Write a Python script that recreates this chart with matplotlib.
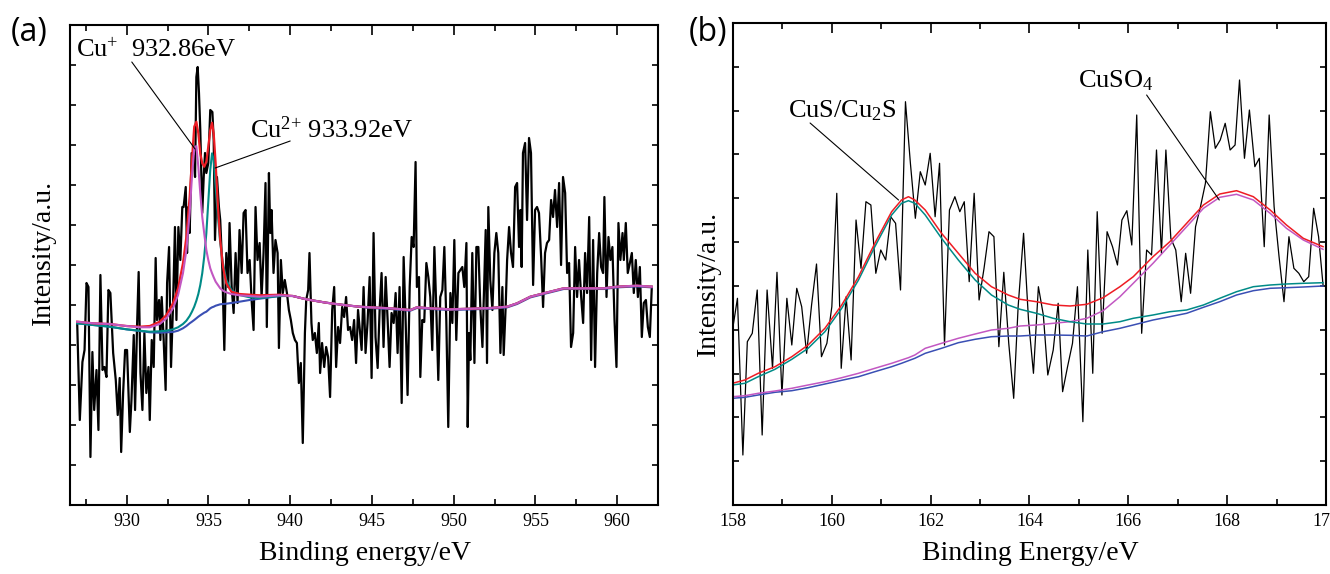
import matplotlib
matplotlib.use("Agg")
import matplotlib.pyplot as plt
from matplotlib.ticker import MultipleLocator

plt.rcParams['font.family'] = ['Liberation Serif', 'DejaVu Serif']
plt.rcParams['mathtext.fontset'] = 'custom'
plt.rcParams['mathtext.rm'] = 'Liberation Serif'
plt.rcParams['mathtext.it'] = 'Liberation Serif:italic'

# ---- (a) Cu 2p: raw spectrum ----
cu_energy = [
    926.97, 927.13, 927.29, 927.42, 927.54, 927.66, 927.78, 927.90, 928.01, 928.15,
    928.27, 928.39, 928.52, 928.64, 928.76, 928.88, 929.00, 929.17, 929.33, 929.45,
    929.57, 929.66, 929.78, 929.90, 930.02, 930.19, 930.29, 930.43, 930.51, 930.63,
    930.73, 930.84, 930.96, 931.08, 931.20, 931.33, 931.41, 931.53, 931.65, 931.77,
    931.85, 931.98, 932.06, 932.14, 932.26, 932.38, 932.47, 932.59, 932.71, 932.83,
    932.95, 933.04, 933.16, 933.28, 933.40, 933.48, 933.61, 933.69, 933.77, 933.85,
    933.97, 934.10, 934.18, 934.26, 934.34, 934.42, 934.50, 934.62, 934.71, 934.79,
    934.87, 934.99, 935.11, 935.24, 935.32, 935.40, 935.52, 935.64, 935.72, 935.85,
    935.97, 936.09, 936.21, 936.29, 936.42, 936.54, 936.66, 936.78, 936.90, 937.03,
    937.15, 937.27, 937.39, 937.52, 937.64, 937.76, 937.88, 938.00, 938.13, 938.25,
    938.37, 938.49, 938.57, 938.70, 938.78, 938.86, 938.98, 939.10, 939.23, 939.31,
    939.43, 939.55, 939.67, 939.80, 939.92, 940.04, 940.16, 940.29, 940.41, 940.53,
    940.65, 940.77, 940.90, 940.98, 941.10, 941.18, 941.30, 941.38, 941.51, 941.63,
    941.75, 941.83, 941.95, 942.08, 942.20, 942.32, 942.44, 942.57, 942.69, 942.81,
    942.93, 943.05, 943.18, 943.30, 943.42, 943.54, 943.66, 943.79, 943.91, 944.03,
    944.15,
    944.37, 944.49, 944.61, 944.73, 944.86, 944.98, 945.10, 945.22, 945.35, 945.47,
    945.59, 945.71, 945.84, 945.96, 946.08, 946.20, 946.33, 946.45, 946.57, 946.69,
    946.82, 946.94, 947.06, 947.18, 947.31, 947.43, 947.55, 947.67, 947.75, 947.88,
    947.96, 948.08, 948.20, 948.33, 948.45, 948.57, 948.69, 948.82, 948.94, 949.06,
    949.18, 949.31, 949.43, 949.55, 949.67, 949.80, 949.92, 950.04, 950.16, 950.29,
    950.41, 950.53, 950.65, 950.78, 950.86, 950.94, 951.02, 951.14, 951.27, 951.39,
    951.51, 951.63, 951.76, 951.88, 951.96, 952.04, 952.12, 952.24, 952.37, 952.49,
    952.61, 952.73, 952.86, 952.98, 953.06, 953.18, 953.27, 953.39, 953.51, 953.63,
    953.76, 953.88, 954.00, 954.08, 954.16, 954.24, 954.37, 954.49, 954.61, 954.73,
    954.86, 954.98, 955.10, 955.22, 955.35, 955.47, 955.59, 955.71, 955.84, 955.96,
    956.08, 956.20, 956.33, 956.45, 956.57, 956.69, 956.82, 956.94, 957.06, 957.18,
    957.31, 957.43, 957.55, 957.67, 957.80, 957.92, 958.04, 958.16, 958.29, 958.41,
    958.53, 958.65, 958.78, 958.90, 959.02, 959.14, 959.22, 959.35, 959.47, 959.59,
    959.71, 959.84, 959.96, 960.08, 960.20, 960.33, 960.41, 960.53, 960.65, 960.78,
    960.90, 961.02, 961.14, 961.27, 961.39, 961.51, 961.63, 961.76, 961.88, 962.00,
    962.12,
]
cu_counts = [
    182, 85, 143, 155, 222, 218, 48, 153, 95, 135,
    75, 230, 135, 138, 128, 215, 212, 152, 125, 90,
    127, 53, 112, 155, 155, 73, 105, 170, 95, 178,
    233, 132, 95, 172, 112, 138, 85, 165, 138, 247,
    185, 205, 165, 208, 165, 115, 222, 258, 138, 198,
    278, 185, 278, 245, 298, 298, 318, 252, 298, 272,
    352, 348, 328, 428, 438, 412, 375, 292, 328, 352,
    332, 342, 395, 393, 365, 265, 328, 298, 285, 235,
    155, 252, 218, 282, 218, 192, 252, 202, 275, 232,
    292, 295, 232, 245, 205, 175, 298, 245, 262, 208,
    252, 322, 178, 332, 272, 295, 232, 265, 252, 157,
    245, 212, 225, 212, 195, 185, 172, 165, 162, 122,
    142, 62, 172, 205, 215, 252, 182, 165, 172, 152,
    182, 132, 162, 138, 158, 148, 108, 195, 218, 138,
    178, 162, 198, 188, 208, 175, 178, 165, 185, 142,
    195,
    155, 218, 152, 182, 228, 127, 272, 168, 137, 195,
    232, 158, 228, 185, 138, 192, 182, 212, 152, 218,
    102, 248, 185, 110, 218, 268, 258, 343, 218, 228,
    128, 185, 183, 242, 228, 208, 155, 258, 195, 125,
    208, 215, 258, 185, 78, 212, 182, 265, 165, 232,
    235, 238, 218, 262, 78, 172, 145, 252, 142, 258,
    258, 198, 158, 228, 275, 142, 298, 225, 195, 252,
    272, 252, 152, 218, 150, 198, 245, 278, 252, 238,
    318, 322, 258, 295, 238, 352, 362, 285, 367, 352,
    220, 295, 298, 292, 248, 198, 252, 262, 265, 305,
    288, 315, 278, 322, 240, 328, 312, 232, 242, 158,
    172, 258, 208, 245, 208, 182, 252, 212, 288, 145,
    265, 138, 232, 272, 238, 232, 308, 208, 268, 245,
    258, 185, 138, 282, 245, 272, 245, 282, 232, 242,
    252, 212, 245, 208, 238, 168, 202, 205, 178, 168,
    218,
]

# ---- (a) fitted curves ----
cu_fit_energy = [
    926.97, 927.95, 928.96, 929.98, 930.80, 931.41, 932.02, 932.43, 932.83, 933.14,
    933.44, 933.65, 933.85, 933.99, 934.13, 934.26, 934.38, 934.50, 934.62, 934.74,
    934.87, 934.99, 935.11, 935.22, 935.32, 935.44, 935.58, 935.72, 935.89, 936.09,
    936.40, 936.90, 937.52, 938.13, 939.35, 940.16, 940.98, 942.20, 943.42, 944.23,
    944.90, 946.12, 947.35, 947.75, 948.57, 949.80, 951.02, 952.24, 953.27, 953.88,
    954.69, 955.51, 956.73, 957.96, 959.18, 960.00, 961.22, 962.12,
]
cu_background = [
    181.7, 180.0, 178.3, 175.7, 174.0, 172.7, 172.3, 172.7, 173.0, 174.3,
    176.7, 179.0, 181.7, 183.3, 185.0, 186.7, 188.3, 189.7, 191.0, 192.3,
    193.3, 195.0, 196.7, 197.7, 198.3, 199.3, 200.0, 200.7, 201.0, 201.3,
    202.0, 203.3, 205.0, 206.3, 209.0, 209.0, 205.7, 202.3, 199.7, 198.3,
    197.0, 196.0, 194.3, 197.0, 196.0, 195.0, 195.6, 196.3, 197.6, 201.0,
    207.6, 211.0, 216.0, 216.0, 216.0, 217.6, 218.6, 217.6,
]
cu2_fit = [
    181.7, 180.0, 178.3, 175.7, 174.3, 173.3, 173.7, 174.3, 175.7, 177.7,
    181.0, 184.3, 189.0, 193.3, 198.3, 204.3, 211.0, 220.0, 231.7, 248.3,
    271.7, 303.3, 335.0, 351.7, 345.0, 318.3, 288.3, 261.7, 241.7, 225.0,
    215.0, 210.0, 207.7, 207.0, 209.0, 209.0, 205.7, 202.3, 199.7, 198.3,
    197.7, 196.7, 195.0, 197.7, 196.7, 195.7, 196.3, 197.0, 198.3, 201.7,
    208.3, 211.7, 216.7, 216.7, 216.7, 218.3, 219.3, 218.3,
]
cu1_fit = [
    183.3, 181.7, 181.0, 179.0, 177.7, 177.7, 181.0, 186.7, 196.7, 210.0,
    231.7, 255.0, 291.7, 328.3, 356.7, 359.0, 338.3, 311.7, 288.3, 271.7,
    255.0, 245.0, 236.7, 231.7, 227.7, 223.3, 220.0, 216.7, 214.3, 212.7,
    211.0, 209.7, 209.0, 208.3, 209.7, 209.0, 205.7, 202.3, 199.7, 198.3,
    197.7, 196.7, 195.0, 197.7, 196.7, 195.7, 196.3, 197.0, 198.3, 201.7,
    208.3, 211.7, 216.7, 216.7, 216.7, 218.3, 219.3, 218.3,
]
cu_envelope = [
    183.3, 181.7, 181.0, 179.0, 178.3, 179.0, 183.3, 190.0, 201.7, 216.7,
    241.7, 268.3, 308.3, 345.0, 378.3, 383.3, 371.7, 351.7, 341.7, 338.3,
    343.3, 358.3, 375.0, 382.3, 371.7, 341.7, 298.3, 265.0, 238.3, 221.7,
    213.3, 211.0, 210.3, 209.7, 210.3, 209.0, 205.7, 202.3, 199.7, 198.3,
    197.7, 196.7, 195.0, 197.7, 196.7, 195.7, 196.3, 197.0, 198.3, 201.7,
    208.3, 211.7, 216.7, 216.7, 216.7, 218.3, 219.3, 218.3,
]

# ---- (b) S 2p: raw spectrum ----
s_energy = [
    157.99, 158.09, 158.20, 158.29, 158.39, 158.49, 158.59, 158.69, 158.80, 158.89,
    158.99, 159.09, 159.19, 159.29, 159.39, 159.49, 159.59, 159.69, 159.79, 159.90,
    160.00, 160.10, 160.19, 160.29, 160.39, 160.49, 160.59, 160.69, 160.79, 160.89,
    160.99, 161.09, 161.19, 161.29, 161.39, 161.49, 161.59, 161.69, 161.79, 161.89,
    161.99, 162.09, 162.18, 162.28, 162.38, 162.49, 162.59, 162.68, 162.78, 162.88,
    162.98, 163.08, 163.18, 163.28, 163.38, 163.48, 163.58, 163.68, 163.77, 163.88,
    163.98, 164.08, 164.18, 164.28, 164.37, 164.48, 164.58, 164.67, 164.77, 164.87,
    164.97, 165.08, 165.18, 165.28, 165.37, 165.47, 165.57, 165.68, 165.78, 165.87,
    165.97, 166.07, 166.17, 166.27, 166.37, 166.47, 166.57, 166.67, 166.76, 166.86,
    166.96, 167.07, 167.16, 167.26, 167.36, 167.46, 167.56, 167.66, 167.76, 167.86,
    167.96, 168.06, 168.16, 168.25, 168.35, 168.45, 168.56, 168.65, 168.75, 168.85,
    168.95, 169.05, 169.15, 169.25, 169.35, 169.45, 169.55, 169.65, 169.75, 169.85,
    169.94,
]
s_counts = [
    175, 206.7, 50, 163.3, 171.7, 215, 70, 215, 136.7, 232.7,
    110, 206.7, 160, 216.7, 198.3, 151.7, 200, 241, 148.3, 161.7,
    198.3, 311.7, 136.7, 208.3, 145, 285, 236.7, 303.3, 300, 231.7,
    255, 245, 288.3, 281.7, 215, 403.3, 341.7, 286.7, 333.3, 320,
    351.7, 288.3, 341.7, 160, 295, 308.3, 293.3, 303.3, 223.3, 311.7,
    205, 236.7, 273.3, 268.3, 158.3, 232.7, 161.7, 106.7, 198.3, 271.7,
    185, 131.7, 218.3, 190, 130, 155, 201.7, 113.3, 138.3, 161.7,
    218.3, 83.3, 255, 131.7, 293.3, 171.7, 273.3, 258.3, 240, 285,
    294.3, 260, 390, 171.7, 255, 250, 355, 251.7, 355, 266.7,
    255, 203.3, 251.7, 211.7, 278.3, 298.3, 321.7, 393.3, 356.7, 365,
    381.7, 355, 360, 425, 346.7, 395, 338.3, 346.7, 258.3, 390,
    298.3, 248.3, 203.3, 268.3, 236.7, 231.7, 223.3, 228.3, 296.7, 268.3,
    220,
]

# ---- (b) fitted curves ----
s_fit_energy = [
    157.99, 158.24, 158.51, 158.85, 159.19, 159.52, 159.86, 160.20, 160.54, 160.87,
    161.21, 161.41, 161.55, 161.68, 161.89, 162.22, 162.56, 162.90, 163.23, 163.57,
    163.81, 164.14, 164.48, 164.82, 165.16, 165.49, 165.83, 166.10, 166.50, 166.84,
    167.18, 167.52, 167.85, 168.19, 168.53, 168.87, 169.20, 169.54, 169.94,
]
s_envelope = [
    121.7, 125.0, 131.7, 138.3, 148.3, 160.0, 176.7, 200.0, 228.3, 261.7,
    293.3, 305.0, 308.3, 305.0, 295.0, 271.7, 251.7, 231.7, 218.3, 210.0,
    205.7, 203.3, 200.0, 199.0, 200.7, 207.3, 218.3, 228.3, 248.3, 263.3,
    281.7, 300.0, 311.0, 314.3, 308.3, 295.0, 280.0, 266.7, 258.3,
]
cus_fit = [
    120.0, 121.7, 128.3, 135.7, 145.7, 156.7, 173.3, 196.7, 225.0, 258.3,
    290.0, 301.7, 304.3, 301.7, 290.0, 266.7, 245.0, 225.0, 210.0, 200.0,
    195.7, 191.7, 186.7, 183.3, 181.0, 181.0, 183.3, 186.7, 190.0, 193.3,
    195.0, 200.0, 206.7, 213.3, 218.3, 220.0, 221.0, 221.7, 222.3,
]
cuso4_fit = [
    108.3, 109.3, 111.7, 114.0, 116.7, 120.0, 123.3, 127.3, 131.7, 136.7,
    141.7, 145.0, 147.3, 150.0, 156.7, 161.7, 166.7, 171.0, 175.0, 176.7,
    179.0, 180.0, 181.7, 183.3, 186.7, 194.3, 208.3, 221.7, 241.7, 260.0,
    278.3, 296.7, 307.7, 310.7, 305.0, 291.7, 276.7, 265.0, 255.7,
]
s_background = [
    106.7, 107.7, 110.0, 112.7, 114.3, 117.3, 121.0, 124.7, 128.3, 133.3,
    138.3, 141.7, 144.3, 146.7, 151.7, 156.7, 162.3, 165.7, 168.3, 169.0,
    169.0, 170.0, 170.0, 169.7, 169.0, 173.3, 176.7, 180.0, 185.0, 188.3,
    191.7, 197.7, 203.3, 210.0, 214.3, 216.7, 217.3, 218.0, 219.0,
]

RED = '#ee1c24'
TEAL = '#008b87'
MAGENTA = '#c257c2'
BLUE = '#3a4fb4'

fig = plt.figure(figsize=(13.3, 5.74), dpi=100)
W, H = 1330.0, 574.0
ax1 = fig.add_axes([70 / W, 69 / H, 588 / W, 480 / H])
ax2 = fig.add_axes([733 / W, 69 / H, 593 / W, 482 / H])

# panel (a)
ax1.plot(cu_energy, cu_counts, color='black', lw=1.6)
ax1.plot(cu_fit_energy, cu_background, color=BLUE, lw=1.5)
ax1.plot(cu_fit_energy, cu2_fit, color=TEAL, lw=1.5)
ax1.plot(cu_fit_energy, cu_envelope, color=RED, lw=1.6)
ax1.plot(cu_fit_energy, cu1_fit, color=MAGENTA, lw=1.5)
ax1.set_xlim(926.53, 962.5)
ax1.set_ylim(0, 480)
ax1.xaxis.set_major_locator(MultipleLocator(5))
ax1.xaxis.set_minor_locator(MultipleLocator(2.5))
ax1.yaxis.set_major_locator(MultipleLocator(40))

ax1.text(926.90, 448, r'Cu$^{\mathrm{+}}$  932.86eV', fontsize=19, ha='left', va='baseline')
ax1.annotate('', xy=(934.18, 356), xytext=(930.31, 443),
             arrowprops=dict(arrowstyle='-', lw=0.8, color='black', shrinkA=0, shrinkB=0))
ax1.text(937.55, 367, r'Cu$^{\mathrm{2{+}}}$ 933.92eV', fontsize=19, ha='left', va='baseline')
ax1.annotate('', xy=(935.41, 337), xytext=(940.0, 364),
             arrowprops=dict(arrowstyle='-', lw=0.8, color='black', shrinkA=0, shrinkB=0))

# panel (b)
ax2.plot(s_energy, s_counts, color='black', lw=0.9)
ax2.plot(s_fit_energy, s_background, color=BLUE, lw=1.1)
ax2.plot(s_fit_energy, cuso4_fit, color=MAGENTA, lw=1.1)
ax2.plot(s_fit_energy, cus_fit, color=TEAL, lw=1.1)
ax2.plot(s_fit_energy, s_envelope, color=RED, lw=1.1)
ax2.set_xlim(158, 170)
ax2.set_ylim(0, 482)
ax2.xaxis.set_major_locator(MultipleLocator(2))
ax2.xaxis.set_minor_locator(MultipleLocator(1))
ax2.set_yticks([482 * k / 11 for k in range(12)])

ax2.text(159.11, 388, r'CuS/Cu$_{\mathrm{2}}$S', fontsize=19, ha='left', va='baseline')
ax2.annotate('', xy=(161.35, 305), xytext=(159.56, 382),
             arrowprops=dict(arrowstyle='-', lw=0.8, color='black', shrinkA=0, shrinkB=0))
ax2.text(164.99, 418, r'CuSO$_{\mathrm{4}}$', fontsize=19, ha='left', va='baseline')
ax2.annotate('', xy=(167.84, 305), xytext=(166.37, 410),
             arrowprops=dict(arrowstyle='-', lw=0.8, color='black', shrinkA=0, shrinkB=0))

for ax in (ax1, ax2):
    for sp in ax.spines.values():
        sp.set_linewidth(1.5)
    ax.tick_params(which='both', direction='in', top=True, right=True,
                   labelleft=False, labelsize=13, width=1.2, pad=6)
    ax.tick_params(axis='x', which='major', length=7)
    ax.tick_params(axis='x', which='minor', length=4)
    ax.tick_params(axis='y', which='major', length=4)

# axis titles and panel tags
fig.text(365 / W, 1 - 553 / H, 'Binding energy/eV', fontsize=20, ha='center', va='center')
fig.text(1030 / W, 1 - 553 / H, 'Binding Energy/eV', fontsize=20, ha='center', va='center')
fig.text(43 / W, 1 - 252 / H, 'Intensity/a.u.', fontsize=20, rotation=90, ha='center', va='center')
fig.text(708 / W, 1 - 283 / H, 'Intensity/a.u.', fontsize=20, rotation=90, ha='center', va='center')
fig.text(29 / W, 1 - 33 / H, '(a)', fontsize=23, family='Open Sans', ha='center', va='center')
fig.text(708 / W, 1 - 33 / H, '(b)', fontsize=23, family='Open Sans', ha='center', va='center')

fig.savefig('out.png', dpi=100)
